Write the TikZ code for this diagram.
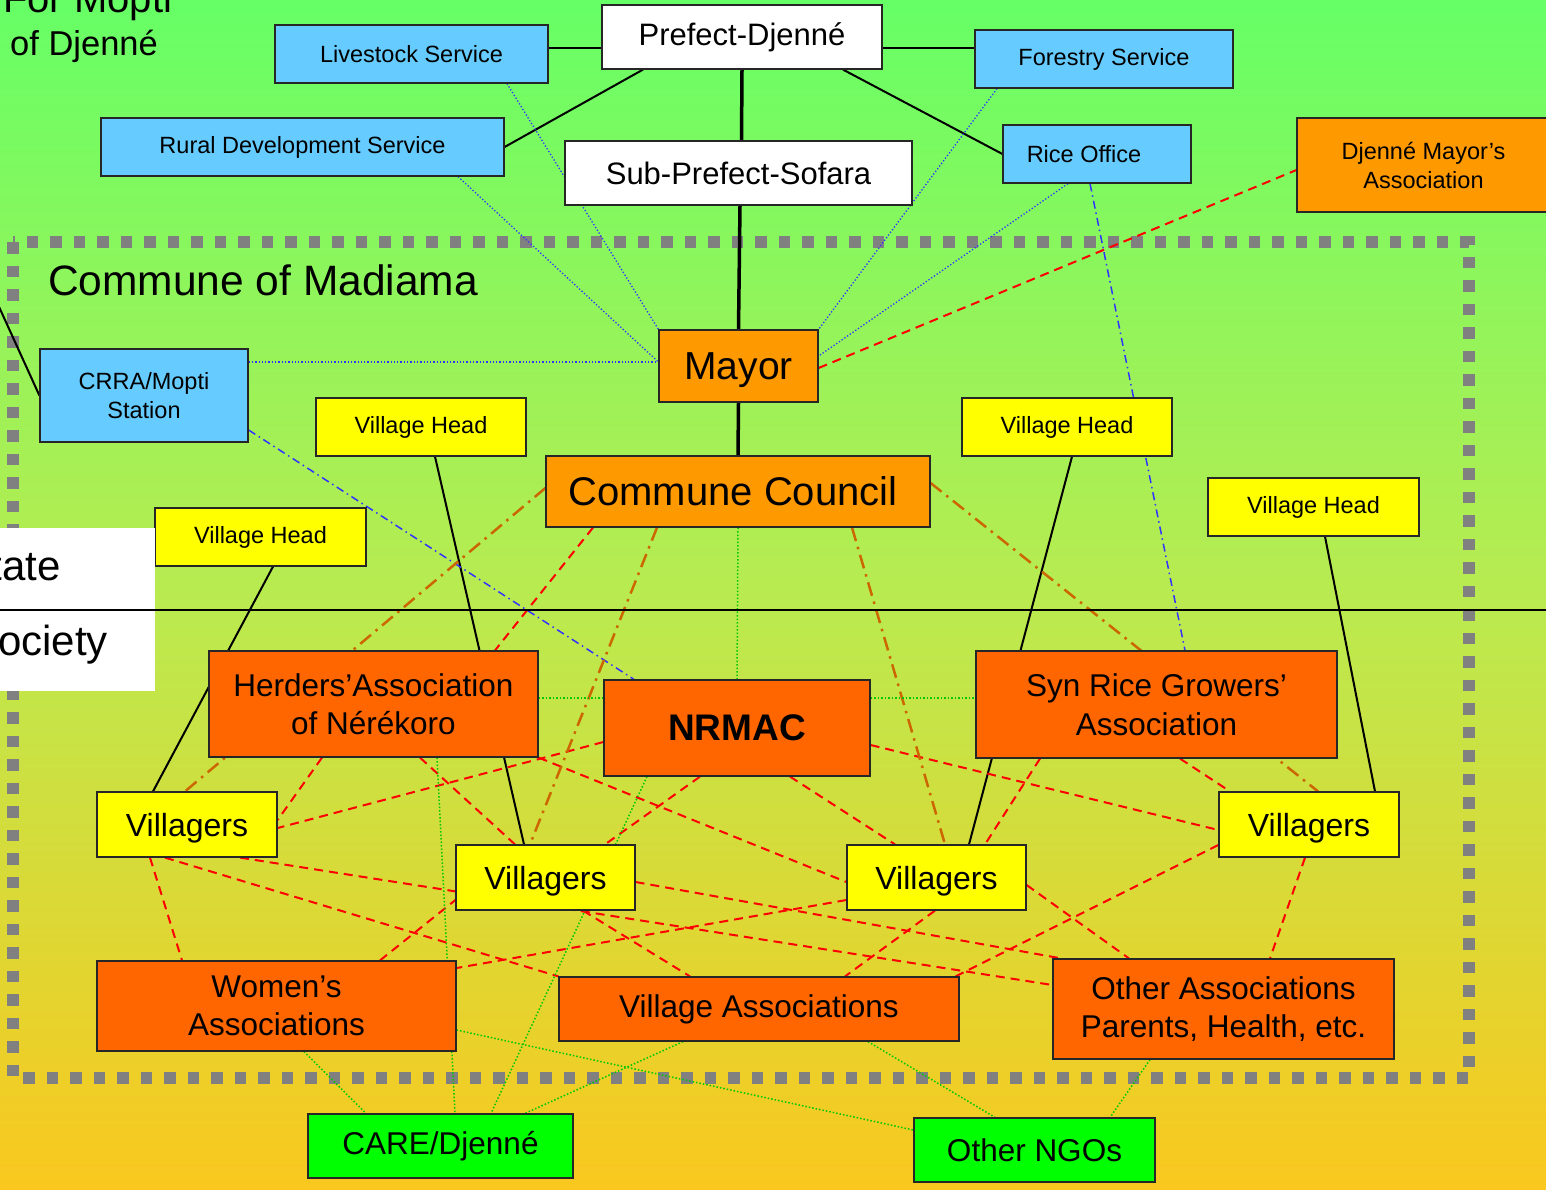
\documentclass[tikz,border=0pt]{standalone}
\usepackage{fontspec}
\setmainfont{Liberation Sans}
\usetikzlibrary{calc}
\pgfdeclarelayer{bglayer}
\pgfdeclarelayer{edgelayer}
\pgfsetlayers{bglayer,edgelayer,main}

\definecolor{bgtop}{RGB}{102,255,102}
\definecolor{bgmid}{RGB}{185,235,80}
\definecolor{bgbot}{RGB}{250,200,30}
\definecolor{svcblue}{RGB}{102,204,255}
\definecolor{lightorange}{RGB}{255,153,0}
\definecolor{darkorange}{RGB}{255,102,0}
\definecolor{vyellow}{RGB}{255,255,0}
\definecolor{ngogreen}{RGB}{0,255,0}
\definecolor{bordergray}{RGB}{128,128,128}
\definecolor{linkblue}{RGB}{51,51,255}
\definecolor{linkred}{RGB}{255,0,0}
\definecolor{linkorange}{RGB}{204,102,0}
\definecolor{linkgreen}{RGB}{0,200,0}

\begin{document}
\begin{tikzpicture}[x=1pt,y=-1pt,
  box/.style={draw=black!85, line width=1.2pt, rectangle, inner sep=0pt, align=center, text=black},
  wh/.style 2 args={minimum width=#1pt, minimum height=#2pt},
  svc/.style={box, fill=svcblue, font=\fontsize{23.5}{29}\selectfont},
  lorng/.style={box, fill=lightorange},
  dorng/.style={box, fill=darkorange, font=\fontsize{31.5}{38.5}\selectfont},
  yelhead/.style={box, fill=vyellow, font=\fontsize{23.5}{29}\selectfont},
  yelvill/.style={box, fill=vyellow, font=\fontsize{32}{38}\selectfont, text depth=0pt},
  ngo/.style={box, fill=ngogreen, font=\fontsize{31.5}{38}\selectfont},
  whitebox/.style={box, fill=white, font=\fontsize{31}{38}\selectfont},
  solidln/.style={black, line width=2pt},
  thickln/.style={black, line width=3.5pt},
  bluedot/.style={linkblue, line width=1.3pt, dash pattern=on 1.3pt off 2pt},
  bluedashdot/.style={linkblue, line width=1.5pt, dash pattern=on 8pt off 4pt on 1.5pt off 4pt},
  reddash/.style={linkred, line width=2pt, dash pattern=on 9pt off 6pt},
  orangedd/.style={linkorange, line width=2.5pt, dash pattern=on 14pt off 6pt on 2.5pt off 6pt},
  greendot/.style={linkgreen, line width=1.5pt, dash pattern=on 1.5pt off 2pt},
  freetext/.style={inner sep=0pt, text=black}
]
\useasboundingbox (0,0) rectangle (1546,1189);

\begin{pgfonlayer}{bglayer}
  \fill[top color=bgtop, bottom color=bgbot, middle color=bgmid] (0,0) rectangle (1546,1189);
  \draw[bordergray, line width=11.5pt, dash pattern=on 11.5pt off 12pt] (13,242) rectangle (1469,1078);
\end{pgfonlayer}

% ---------- nodes ----------
\node[whitebox, wh={280}{64}] (prefect) at (742,37) {Prefect-Djenné};
\node[svc, wh={273}{58}] (livestock) at (411.5,54) {Livestock Service};
\node[svc, wh={258}{58}] (forestry) at (1104,59) {Forestry Service};
\node[svc, wh={403}{58}] (rural) at (302.5,147) {Rural Development Service};
\node[whitebox, wh={347}{64}] (subpref) at (738.5,173) {Sub-Prefect-Sofara};
\node[svc, wh={188}{58}] (rice) at (1097,154) {Rice Office\hspace*{26pt}};
\node[lorng, wh={253}{94}, font=\fontsize{23.5}{29}\selectfont] (djmayor) at (1423.5,165) {Djenné Mayor’s\\Association};
\node[lorng, wh={159}{72}, font=\fontsize{39}{44}\selectfont, text depth=0pt] (mayor) at (738.5,366) {Mayor};
\node[lorng, wh={384}{71}, font=\fontsize{40}{46}\selectfont] (cc) at (738,491.5) {Commune Council\hspace*{10pt}};
\node[svc, wh={208}{93}] (crra) at (144,395.5) {CRRA/Mopti\\Station};

\node[yelhead, wh={210}{58}] (vh1) at (421,427) {Village Head};
\node[yelhead, wh={210}{58}] (vh2) at (1067,427) {Village Head};
\node[yelhead, wh={211}{58}] (vh3) at (1313.5,507) {Village Head};
\node[yelhead, wh={211}{58}] (vh4) at (260.5,537) {Village Head};

\node[dorng, wh={329}{106}] (herders) at (373.5,704) {Herders’Association\\of Nérékoro};
\node[dorng, wh={266}{96}, font=\fontsize{37}{44}\selectfont\bfseries] (nrmac) at (737,728) {NRMAC};
\node[dorng, wh={361}{107}] (synrice) at (1156.5,704.5) {Syn Rice Growers’\\Association};

\node[yelvill, wh={180}{65}] (vA) at (187,824.5) {Villagers};
\node[yelvill, wh={179}{65}] (vB) at (545.5,877.5) {Villagers};
\node[yelvill, wh={179}{65}] (vC) at (936.5,877.5) {Villagers};
\node[yelvill, wh={180}{65}] (vD) at (1309,824.5) {Villagers};

\node[dorng, wh={359}{90}] (women) at (276.5,1006) {Women’s\\Associations};
\node[dorng, wh={400}{64}] (villassoc) at (759,1009) {Village Associations};
\node[dorng, wh={341}{100}] (otherassoc) at (1223.5,1009) {Other Associations\\Parents, Health, etc.};

\node[ngo, wh={265}{64}] (care) at (440.5,1146) {CARE/Djenné};
\node[ngo, wh={241}{64}] (ngos) at (1034.5,1150) {Other NGOs};

% free texts
\node[freetext, anchor=base west, font=\fontsize{40}{40}\selectfont] (mopti) at (3,12) {For Mopti};
\node[freetext, anchor=base west, font=\fontsize{34.5}{40}\selectfont] (djenne) at (10,55) {of Djenné};
\node[freetext, anchor=base west, font=\fontsize{42.5}{48}\selectfont] (madiama) at (48,295) {Commune of Madiama};

% State / Civil Society panel
\node[fill=white, draw=none, inner sep=0pt, minimum width=175pt, minimum height=163pt] (statebox) at (67.5,609.5) {};
\node[freetext, anchor=base east, font=\fontsize{42}{48}\selectfont] (state) at (61,580) {State};
\node[freetext, anchor=base east, font=\fontsize{42}{48}\selectfont] (civil) at (108,655) {Civil Society};
\coordinate (sepL) at (-5,610);
\coordinate (sepR) at (1551,610);
\draw[black, line width=1.5pt] (sepL) -- (sepR);

\coordinate (offleft) at (-20,265);

% ---------- connectors ----------
\begin{pgfonlayer}{edgelayer}
% solid hierarchy
\draw[solidln] ([yshift=6pt]livestock.east) -- ([yshift=-11pt]prefect.west);
\draw[solidln] ([yshift=-11pt]prefect.east) -- ([yshift=11pt]forestry.west);
\draw[solidln] ([xshift=-99pt]prefect.south) -- (rural.east);
\draw[solidln] ([xshift=101pt]prefect.south) -- (rice.west);
\draw[thickln] (prefect.south) -- ([xshift=3pt]subpref.north);
\draw[thickln] ([xshift=1.5pt]subpref.south) -- (mayor.north);
\draw[thickln] (mayor.south) -- (cc.north);
\draw[solidln] ([xshift=14pt]vh1.south) -- ([xshift=-21.5pt]vB.north);
\draw[solidln] ([xshift=5pt]vh2.south) -- ([xshift=32.5pt]vC.north);
\draw[solidln] ([xshift=11.5pt]vh3.south) -- ([xshift=66pt]vD.north);
\draw[solidln] ([xshift=12.5pt]vh4.south) -- ([xshift=-34pt]vA.north);
\draw[solidln] (offleft) -- (crra.west);

% blue dotted
\draw[bluedot] ([xshift=95.5pt]livestock.south) -- (mayor.north west);
\draw[bluedot] ([xshift=155.5pt]rural.south) -- ([yshift=4pt]mayor.west);
\draw[bluedot] ([yshift=33.5pt]crra.east) -- ([yshift=4pt]mayor.west);
\draw[bluedot] ([xshift=-107pt]forestry.south) -- (mayor.north east);
\draw[bluedot] ([xshift=-29pt]rice.south) -- ([yshift=10pt]mayor.east);

% blue dash-dot
\draw[bluedashdot] ([xshift=-7pt]rice.south) -- ([xshift=28.5pt]synrice.north);
\draw[bluedashdot] ([yshift=-34.5pt]crra.east) -- ([xshift=-103pt]nrmac.north);

% red dashed
\draw[reddash] ([yshift=-2pt]mayor.east) -- ([yshift=-5pt]djmayor.west);
\draw[reddash] ([xshift=-145pt]cc.south) -- ([xshift=121.5pt]herders.north);
\draw[reddash] ([xshift=-51.5pt]herders.south) -- ([yshift=4.5pt]vA.east);
\draw[reddash] ([xshift=46.5pt]herders.south) -- ([xshift=-30.5pt]vB.north);
\draw[reddash] (herders.south east) -- ([yshift=-4.5pt]vC.west);
\draw[reddash] ([yshift=-14pt]nrmac.west) -- ([yshift=-3.5pt]vA.east);
\draw[reddash] ([xshift=-37pt]nrmac.south) -- ([xshift=59.5pt]vB.north);
\draw[reddash] ([xshift=53pt]nrmac.south) -- ([xshift=-41.5pt]vC.north);
\draw[reddash] ([yshift=-17pt]nrmac.east) -- ([yshift=-5.5pt]vD.west);
\draw[reddash] ([xshift=-116.5pt]synrice.south) -- ([xshift=48.5pt]vC.north);
\draw[reddash] ([xshift=23.5pt]synrice.south) -- ([xshift=-79pt]vD.north);
\draw[reddash] ([xshift=-37pt]vA.south) -- ([xshift=-94.5pt]women.north);
\draw[reddash] ([xshift=-22pt]vA.south) -- (villassoc.north west);
\draw[reddash] ([xshift=53pt]vA.south) -- ([yshift=24pt]otherassoc.west);
\draw[reddash] ([xshift=103.5pt]women.north) -- ([yshift=-22.5pt]vB.west);
\draw[reddash] ([xshift=37.5pt]vB.south) -- ([xshift=-69pt]villassoc.north);
\draw[reddash] ([yshift=-4.5pt]vB.east) -- ([xshift=9pt]otherassoc.north west);
\draw[reddash] ([yshift=-22.5pt]vC.west) -- ([yshift=38pt]women.east);
\draw[reddash] ([xshift=-1.5pt]vC.south) -- ([xshift=86pt]villassoc.north);
\draw[reddash] ([yshift=-7.5pt]vC.east) -- ([xshift=-94.5pt]otherassoc.north);
\draw[reddash] ([yshift=-20.5pt]vD.west) -- ([xshift=-4pt]villassoc.north east);
\draw[reddash] ([xshift=-4pt]vD.south) -- ([xshift=46.5pt]otherassoc.north);

% orange dash-dot
\draw[orangedd] ([yshift=3.5pt]cc.west) -- ([xshift=-2pt]vA.north);
\draw[orangedd] ([xshift=-81pt]cc.south) -- ([xshift=-15.5pt]vB.north);
\draw[orangedd] ([xshift=114pt]cc.south) -- ([xshift=8.5pt]vC.north);
\draw[orangedd] ([yshift=8.5pt]cc.east) -- ([xshift=9pt]vD.north);

% green dotted
\draw[greendot] (cc.south) -- (nrmac.north);
\draw[greendot] ([yshift=6pt]herders.east) -- ([yshift=30pt]nrmac.west);
\draw[greendot] ([yshift=30pt]nrmac.east) -- ([yshift=6.5pt]synrice.west);
\draw[greendot] ([xshift=63.5pt]herders.south) -- ([xshift=14.5pt]care.north);
\draw[greendot] ([xshift=-90pt]nrmac.south) -- ([xshift=50.5pt]care.north);
\draw[greendot] ([xshift=-76pt]villassoc.south) -- ([xshift=84.5pt]care.north);
\draw[greendot] ([xshift=27.5pt]women.south) -- ([xshift=-74.5pt]care.north);
\draw[greendot] ([yshift=-24pt]women.east) -- ([yshift=20pt]ngos.west);
\draw[greendot] ([xshift=109pt]villassoc.south) -- ([xshift=-39.5pt]ngos.north);
\draw[greendot] ([xshift=-73.5pt]otherassoc.south) -- ([xshift=75.5pt]ngos.north);
\end{pgfonlayer}
\end{tikzpicture}
\end{document}
